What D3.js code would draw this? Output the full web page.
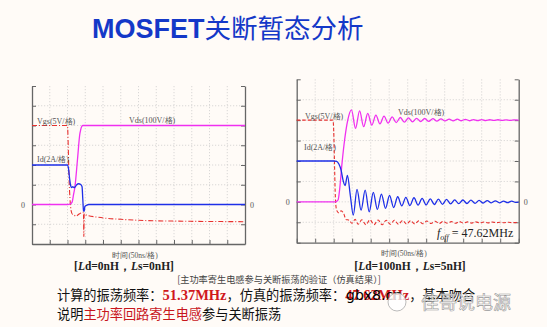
<!DOCTYPE html>
<html><head><meta charset="utf-8">
<script src="https://cdn.jsdelivr.net/npm/d3@7"></script>
<style>html,body{margin:0;padding:0;background:#fffbf7;}svg{display:block;}</style>
</head><body>
<script>
// ---------- data (time in ns, value in divisions) ----------
const xTicks = d3.range(0, 601, 50);       // 12 divisions of 50 ns
const yTicks = d3.range(-2, 7, 1);          // 8 divisions
// Left chart: Ld=0nH, Ls=0nH
const leftVgs = [[0,4],[100,4],[102,3],[104,1.5],[107,0.3],[110,-0.3],[114,-0.5],[118,-0.52],[124,-0.6],[130,-0.52],[136,-0.45],[142,-0.38],[145,-0.4],[146,-1.62],[147,-0.45],[150,-0.5],[160,-0.57],[180,-0.63],[210,-0.7],[250,-0.75],[300,-0.8],[400,-0.84],[500,-0.86],[600,-0.87]];
const leftVds = [[0,0],[100,0],[108,0.03],[113,0.12],[117,0.5],[121,0.9],[128,2.25],[135,3.6],[143,4],[600,4]];
const leftId  = [[0,2],[100,2],[103,1.8],[106,1.3],[109,0.95],[112,0.85],[115,0.9],[118,0.85],[122,0.9],[126,1.0],[131,1.05],[138,1.0],[141,0.9],[143,0.3],[145,-0.3],[147,-0.35],[149,-0.1],[153,-0.05],[160,0],[600,0]];
// Right chart: Ld=100nH, Ls=5nH
const rightVgs = [[0,4],[98,4],[100,3.5],[102,2],[104,0.5],[106,-0.2],[109,-0.45],[114,-0.54],[120,-0.44],[127,-0.57],[133,-0.86],[142,-0.9],[149,-1.05],[158,-0.86],[166,-1.1],[176,-0.88],[187,-1.12],[198,-0.88],[209,-1.12],[220,-0.89],[231,-1.12],[242,-0.9],[253,-1.1],[264,-0.9],[275,-1.1],[286,-0.91],[297,-1.09],[308,-0.92],[319,-1.08],[330,-0.93],[341,-1.07],[352,-0.94],[363,-1.06],[374,-0.95],[385,-1.06],[396,-0.96],[407,-1.05],[418,-0.97],[429,-1.05],[440,-0.97],[451,-1.04],[462,-0.98],[473,-1.04],[484,-0.98],[495,-1.03],[506,-0.99],[517,-1.03],[528,-0.99],[539,-1.02],[550,-1.0],[561,-1.02],[572,-1.0],[583,-1.02],[594,-1.01],[600,-1.02]];
const rightVds = [[0,0],[104,0],[108,0.02],[112,0.1],[116,0.6],[122,1.8],[130,3.1],[138,4.0],[148,4.5],[159,3.6],[170,4.45],[181,3.68],[192,4.33],[203,3.76],[214,4.25],[225,3.82],[236,4.2],[247,3.85],[258,4.16],[269,3.88],[280,4.13],[291,3.9],[302,4.11],[313,3.92],[324,4.09],[335,3.93],[346,4.08],[357,3.94],[368,4.07],[379,3.95],[390,4.06],[401,3.96],[412,4.05],[423,3.96],[434,4.05],[445,3.97],[456,4.04],[467,3.97],[478,4.03],[489,3.98],[500,4.03],[511,3.98],[522,4.02],[533,3.99],[544,4.02],[555,3.99],[566,4.01],[577,3.99],[588,4.01],[600,4.0]];
const rightId = [[0,2],[100,2],[108,1.98],[114,1.85],[120,1.55],[126,1.0],[131,0.8],[137,1.3],[145,0.3],[153,-0.65],[163,0.61],[174,-0.41],[185,0.57],[196,-0.49],[207,0.46],[218,-0.37],[229,0.38],[240,-0.32],[251,0.32],[262,-0.28],[273,0.25],[284,-0.2],[295,0.22],[306,-0.18],[317,0.2],[328,-0.16],[339,0.17],[350,-0.15],[361,0.15],[372,-0.13],[383,0.13],[394,-0.12],[405,0.12],[416,-0.1],[427,0.1],[438,-0.09],[449,0.09],[460,-0.08],[471,0.08],[482,-0.07],[493,0.07],[504,-0.06],[515,0.06],[526,-0.05],[537,0.05],[548,-0.05],[559,0.04],[570,-0.04],[581,0.04],[592,-0.03],[600,0]];

const W = 547, H = 327;
const svg = d3.select("body").append("svg").attr("width", W).attr("height", H);
svg.append("rect").attr("width", W).attr("height", H).attr("fill", "#fffbf7");

// Title
const title = svg.append("text").attr("x", 92).attr("y", 38).attr("fill", "#1438c8");
title.append("tspan").attr("font-family", "Liberation Sans, Arial, sans-serif").attr("font-weight", "bold").attr("font-size", 27).text("MOSFET");
title.append("tspan").attr("font-family", "Noto Sans CJK SC").attr("font-size", 26.5).text("关断暂态分析");

const C_VGS = "#e8312f", C_VDS = "#f030f0", C_ID = "#1e2fe8";
const serif = "Liberation Serif, Times New Roman, serif";

function chart(cfg) {
  const x = d3.scaleLinear().domain([0, 600]).range([cfg.x0, cfg.x1]);
  const y = d3.scaleLinear().domain([-2, 6]).range([cfg.y1, cfg.y0]);
  const g = svg.append("g");
  // grid
  g.append("g").selectAll("line").data(xTicks.slice(1, -1)).join("line")
    .attr("x1", d => x(d)).attr("x2", d => x(d)).attr("y1", y(6)).attr("y2", y(-2))
    .attr("stroke", "#c8c8c8").attr("stroke-width", 0.7).attr("stroke-dasharray", "1.2,1.8");
  g.append("g").selectAll("line").data(yTicks.slice(1, -1)).join("line")
    .attr("y1", d => y(d)).attr("y2", d => y(d)).attr("x1", x(0)).attr("x2", x(600))
    .attr("stroke", "#c8c8c8").attr("stroke-width", 0.7).attr("stroke-dasharray", "1.2,1.8");
  // axes
  const axStyle = a => { a.select(".domain").attr("stroke", "#666").attr("stroke-width", 1.3);
    a.selectAll(".tick line").attr("stroke", "#666").attr("stroke-width", 1); a.selectAll("text").remove(); };
  g.append("g").attr("transform", `translate(${x(0)},0)`)
    .call(d3.axisRight(y).tickValues(yTicks).tickSize(4).tickSizeOuter(0)).call(axStyle);
  g.append("g").attr("transform", `translate(${x(600)},0)`)
    .call(d3.axisLeft(y).tickValues(yTicks).tickSize(4).tickSizeOuter(0)).call(axStyle);
  g.append("g").attr("transform", `translate(0,${y(-2)})`)
    .call(d3.axisTop(x).tickValues(xTicks).tickSize(4).tickSizeOuter(0)).call(axStyle);
  // traces
  const line = d3.line().x(d => x(d[0])).y(d => y(d[1])).curve(d3.curveMonotoneX);
  g.append("path").datum(cfg.vgs).attr("d", line).attr("fill", "none").attr("stroke", C_VGS)
    .attr("stroke-width", 1.1).attr("stroke-dasharray", cfg.dash);
  g.append("path").datum(cfg.vds).attr("d", line).attr("fill", "none").attr("stroke", C_VDS).attr("stroke-width", 1.3);
  g.append("path").datum(cfg.id).attr("d", line).attr("fill", "none").attr("stroke", C_ID).attr("stroke-width", 1.3);
  // labels
  const lab = (tx, ty, t, size, anchor) => g.append("text").attr("x", tx).attr("y", ty)
    .attr("font-family", serif).attr("font-size", size || 8).attr("fill", "#555")
    .attr("text-anchor", anchor || "start").text(t);
  lab(cfg.vgsLab[0], cfg.vgsLab[1], "Vgs(5V/格)");
  lab(cfg.vdsLab[0], cfg.vdsLab[1], "Vds(100V/格)");
  lab(cfg.idLab[0], cfg.idLab[1], "Id(2A/格)");
  lab(x(0) - 7, y(0) + 3, "0", 8, "end");
  lab(x(600) + 5, y(0) + 3, "0", 8, "start");
  lab(cfg.timeX, y(-2) + 13.5, "时间(50ns/格)", 7.5, "middle");
  const cap = g.append("text").attr("x", cfg.capX).attr("y", cfg.capY).attr("text-anchor", "middle")
    .attr("font-family", serif).attr("font-size", 11.5).attr("font-weight", "bold").attr("fill", "#222");
  cap.append("tspan").text("[");
  cap.append("tspan").attr("font-style", "italic").text("L");
  cap.append("tspan").text("d=" + cfg.ld + "，");
  cap.append("tspan").attr("font-style", "italic").text("L");
  cap.append("tspan").text("s=" + cfg.ls + "]");
  return {x, y, g};
}

chart({x0: 32, x1: 245, y0: 86, y1: 244, vgs: leftVgs, vds: leftVds, id: leftId, dash: "5,2,1,2",
  vgsLab: [37, 124], vdsLab: [129, 123], idLab: [37, 162], timeX: 135, capX: 124, capY: 270, ld: "0nH", ls: "0nH"});
const R = chart({x0: 296.7, x1: 518.7, y0: 79.3, y1: 242.7, vgs: rightVgs, vds: rightVds, id: rightId, dash: "3.5,2",
  vgsLab: [305, 119], vdsLab: [398, 115], idLab: [304, 150], timeX: 404, capX: 410, capY: 270, ld: "100nH", ls: "5nH"});
// f_off annotation
const fo = R.g.append("text").attr("x", 437).attr("y", 237).attr("font-family", serif).attr("font-size", 12).attr("fill", "#222");
fo.append("tspan").attr("font-style", "italic").text("f");
fo.append("tspan").attr("font-style", "italic").attr("font-size", 8).attr("dy", 3).text("off");
fo.append("tspan").attr("dy", -3).text(" = 47.62MHz");

// caption
svg.append("text").attr("x", 279).attr("y", 282.5).attr("text-anchor", "middle")
  .attr("font-family", "Noto Sans CJK SC").attr("font-size", 9.2).attr("fill", "#444")
  .text("[主功率寄生电感参与关断振荡的验证（仿真结果）]");

const l1 = svg.append("text").attr("x", 57).attr("y", 300).attr("font-family", "Noto Sans CJK SC").attr("font-size", 13.2).attr("fill", "#111");
l1.append("tspan").text("计算的振荡频率：");
l1.append("tspan").attr("fill", "#d0181c").attr("font-weight", "bold").attr("font-family", serif).attr("font-size", 14.5).text("51.37MHz");
l1.append("tspan").text("，仿真的振荡频率：");
l1.append("tspan").attr("fill", "#d0181c").attr("font-weight", "bold").attr("font-family", serif).attr("font-size", 14.5).text("47.62MHz");
l1.append("tspan").text("，基本吻合");

const l2 = svg.append("text").attr("x", 57).attr("y", 318.8).attr("font-family", "Noto Sans CJK SC").attr("font-size", 13.2).attr("fill", "#111");
l2.append("tspan").text("说明");
l2.append("tspan").attr("fill", "#c8161d").text("主功率回路寄生电感");
l2.append("tspan").text("参与关断振荡");

// watermark
svg.append("text").attr("x", 346).attr("y", 300).attr("font-family", "DejaVu Sans, sans-serif")
  .attr("font-size", 14).attr("fill", "#000").text("gbx8.cn");
svg.append("circle").attr("cx", 397).attr("cy", 302).attr("r", 9).attr("fill", "rgba(255,255,255,0.8)").attr("stroke", "#aaa").attr("stroke-width", 0.8);
svg.append("text").attr("x", 421).attr("y", 309).attr("font-family", "Noto Sans CJK SC").attr("font-size", 18)
  .attr("fill", "rgba(255,255,255,0.85)").attr("stroke", "#999").attr("stroke-width", 0.6).text("佳哥说电源");
</script>
</body></html>
